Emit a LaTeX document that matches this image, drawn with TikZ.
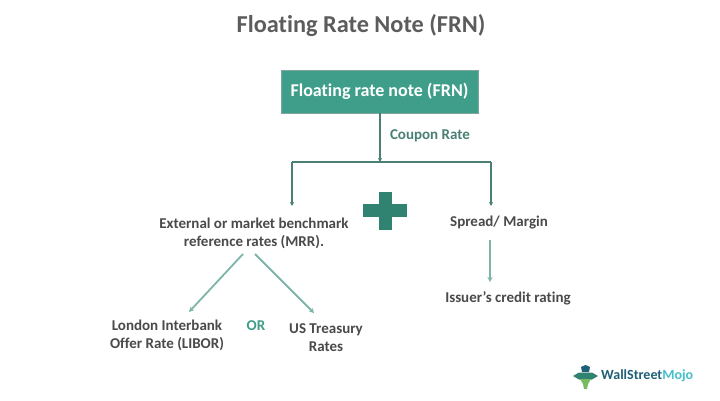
\documentclass[tikz,border=0pt]{standalone}
\usepackage{fontspec}
\setmainfont[Ligatures=NoCommon]{Carlito}
\usetikzlibrary{positioning, arrows.meta}
\definecolor{frngreen}{HTML}{3F9E8A}
\definecolor{frndark}{HTML}{4A7F74}
\definecolor{frnline}{HTML}{7DB5A8}
\definecolor{frntext}{HTML}{4A4A4A}
\definecolor{frnplus}{HTML}{2F8370}
\definecolor{mojoblue}{HTML}{1F5F78}
\definecolor{mojocyan}{HTML}{45BFCB}
\tikzset{
  label text/.style={font=\bfseries\fontsize{15}{18}\selectfont, text=frntext, align=center, inner sep=0pt},
  dark line/.style={draw=frndark, line width=1.3pt, -{Stealth[length=4pt,width=4pt]}},
  pale line/.style={draw=frnline, line width=1.8pt, -{Stealth[length=5pt,width=5pt]}}
}
\begin{document}
\begin{tikzpicture}[x=1pt, y=-1pt]
\useasboundingbox (0,0) rectangle (720,401);
\fill[white] (0,0) rectangle (720,401);

\node[label text, font=\bfseries\fontsize{24.3}{26}\selectfont, text=frntext!90] at (361,26) (title) {Floating Rate Note (FRN)} ;

\node[fill=frngreen, draw=frndark!70, line width=0.6pt, minimum width=197pt, minimum height=43pt, inner sep=0pt, text=white, font=\bfseries\fontsize{18}{20}\selectfont] at (379.5,91.5) (frn) {Floating rate note (FRN)} ;
\node[label text, text=frndark] at (430,136) (coupon) {Coupon Rate} ;

\coordinate (split) at (380,162) ;
\coordinate (splitl) at (292,162) ;
\coordinate (splitr) at (491,162) ;
\coordinate (mrrtop) at (292,206) ;
\coordinate (spreadtop) at (491,206) ;

\node[label text] at (254,233) (mrr) {External or market benchmark\\reference rates (MRR).} ;
\node[label text] at (499,222.5) (spread) {Spread/ Margin} ;
\node[label text] at (508,298) (issuer) {Issuer's credit rating} ;
\node[label text] at (167,335) (libor) {London Interbank\\Offer Rate (LIBOR)} ;
\node[label text] at (326,338) (treasury) {US Treasury\\Rates} ;
\node[label text, text=frngreen] at (256,326) (or) {OR} ;

\coordinate (mrrl) at (243,254) ;
\coordinate (mrrr) at (255,254) ;
\coordinate (liborend) at (189,312) ;
\coordinate (treasuryend) at (314,313) ;
\coordinate (spreadend) at (490,240) ;
\coordinate (issuerend) at (490,282) ;

\draw[dark line] (frn.south -| split) -- (split) ;
\draw[draw=frndark, line width=1.3pt] (splitl) -- (splitr) ;
\draw[dark line] (splitl) -- (mrrtop) ;
\draw[dark line] (splitr) -- (spreadtop) ;
\draw[pale line] (mrrl) -- (liborend) ;
\draw[pale line] (mrrr) -- (treasuryend) ;
\draw[pale line] (spreadend) -- (issuerend) ;

% plus sign
\fill[frnplus] (378.5,192) rectangle (391.5,230) ;
\fill[frnplus] (363,204) rectangle (407,217) ;

% logo
\fill[mojoblue] (585.5,365) -- (590,367) -- (589,372) -- (582,372) -- (581,367) -- cycle ;
\fill[frnplus] (573,376) -- (579,372.5) -- (592,372.5) -- (598,376) -- (592,379.5) -- (579,379.5) -- cycle ;
\fill[frngreen!70!yellow] (580,379) -- (591,379) -- (588,384) -- (587,389) -- (584,389) -- (583,384) -- cycle ;
\node[inner sep=0pt, anchor=west, font=\bfseries\fontsize{14}{16}\selectfont] at (601,376) (mojo) {\textcolor{mojoblue}{WallStreet}\textcolor{mojocyan}{Mojo}} ;
\end{tikzpicture}
\end{document}
